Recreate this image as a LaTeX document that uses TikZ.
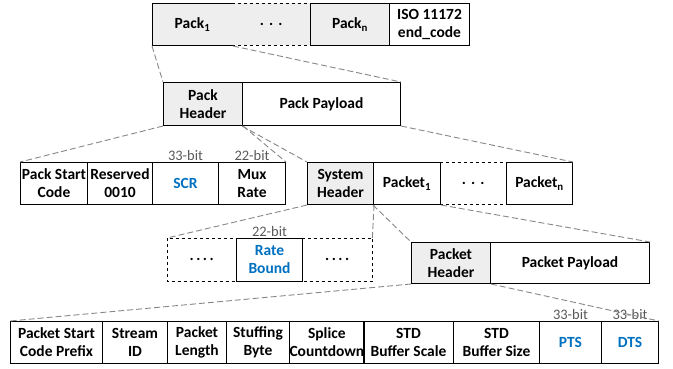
\documentclass[tikz,border=0pt]{standalone}
\usepackage{fontspec}
\setmainfont{Carlito}
\usetikzlibrary{calc}
\definecolor{fieldblue}{RGB}{0,112,192}
\definecolor{hdrgray}{RGB}{238,238,238}
\definecolor{linkgray}{RGB}{135,135,135}

\begin{document}
\begin{tikzpicture}[x=1pt, y=-1pt,
    box/.style={draw, line width=1pt, anchor=north west, inner sep=0pt, align=center,
        font=\fontsize{15.5}{18}\selectfont\bfseries},
    hdr/.style={box, fill=hdrgray},
    field/.style={text=fieldblue},
    gap/.style={anchor=north west, inner sep=0pt, font=\fontsize{15.5}{18}\selectfont\bfseries},
    bits/.style={above, inner sep=1pt, text=black!65, font=\fontsize{14.5}{16}\selectfont},
    link/.style={linkgray, line width=0.9pt, dash pattern=on 6pt off 3pt}]
    \useasboundingbox (0,0) rectangle (673,368);

    % Row 1: stream of packs
    \node[hdr, minimum width=80pt, minimum height=42pt] (pack1) at (152,3) {Pack\textsubscript{1}};
    \node[gap, minimum width=78pt, minimum height=42pt, fill=hdrgray] (packdots) at (232,3) {.\,\,.\,\,.};
    \node[hdr, minimum width=79pt, minimum height=42pt] (packn) at (310,3) {Pack\textsubscript{n}};
    \node[box, minimum width=80pt, minimum height=42pt] (endcode) at (389,3) {ISO 11172\\end\_code};
    \draw[line width=1pt, dashed] (packdots.north west) -- (packdots.north east);
    \draw[line width=1pt, dashed] (packdots.south west) -- (packdots.south east);

    % Row 2: one pack
    \node[hdr, minimum width=79pt, minimum height=43pt] (packhdr) at (163,82) {Pack\\Header};
    \node[box, minimum width=158pt, minimum height=43pt] (packpay) at (242,82) {Pack Payload};

    % Row 3: pack header fields and pack payload
    \node[box, minimum width=67pt, minimum height=42pt] (startcode) at (20,162) {Pack Start\\Code};
    \node[box, minimum width=65pt, minimum height=42pt] (reserved) at (87,162) {Reserved\\0010};
    \node[box, field, minimum width=66pt, minimum height=42pt] (scr) at (152,162) {SCR};
    \node[box, minimum width=67pt, minimum height=42pt] (muxrate) at (218,162) {Mux\\Rate};
    \node[bits] at (scr.north) {33-bit};
    \node[bits] at (muxrate.north) {22-bit};

    \node[hdr, minimum width=66pt, minimum height=42pt] (syshdr) at (307,162) {System\\Header};
    \node[box, minimum width=67pt, minimum height=42pt] (packet1) at (373,162) {Packet\textsubscript{1}};
    \node[gap, minimum width=66pt, minimum height=42pt] (packetdots) at (440,162) {.\,\,.\,\,.};
    \node[box, minimum width=66pt, minimum height=42pt] (packetn) at (506,162) {Packet\textsubscript{n}};
    \draw[line width=1pt, dashed] (packetdots.north west) -- (packetdots.north east);
    \draw[line width=1pt, dashed] (packetdots.south west) -- (packetdots.south east);

    % Row 4: system header fields
    \node[gap, minimum width=69pt, minimum height=43pt] (sysdotsl) at (167,238) {.\,.\,.\,.};
    \node[box, field, minimum width=66pt, minimum height=43pt] (ratebound) at (236,238) {Rate\\Bound};
    \node[gap, minimum width=70pt, minimum height=43pt] (sysdotsr) at (302,238) {.\,.\,.\,.};
    \draw[line width=1pt, dashed] (sysdotsl.north west) rectangle (sysdotsr.south east);
    \node[bits] at (ratebound.north) {22-bit};

    % Row 4: one packet
    \node[hdr, minimum width=79pt, minimum height=41pt] (packethdr) at (411,242) {Packet\\Header};
    \node[box, minimum width=159pt, minimum height=41pt] (packetpay) at (490,242) {Packet Payload};

    % Row 5: packet header fields
    \node[box, minimum width=92pt, minimum height=42pt] (prefix) at (10,321) {Packet Start\\Code Prefix};
    \node[box, minimum width=65pt, minimum height=42pt] (streamid) at (102,321) {Stream\\ID};
    \node[box, minimum width=59pt, minimum height=42pt] (pktlen) at (167,321) {Packet\\Length};
    \node[box, minimum width=63pt, minimum height=42pt] (stuffing) at (226,321) {Stuffing\\Byte};
    \node[box, minimum width=74pt, minimum height=42pt] (splice) at (289,321) {Splice\\Countdown};
    \node[box, minimum width=90pt, minimum height=42pt] (stdscale) at (363,321) {STD\\Buffer Scale};
    \node[box, minimum width=86pt, minimum height=42pt] (stdsize) at (453,321) {STD\\Buffer Size};
    \node[box, field, minimum width=62pt, minimum height=42pt] (pts) at (539,321) {PTS};
    \node[box, field, minimum width=57pt, minimum height=42pt] (dts) at (601,321) {DTS};
    \node[bits] at (pts.north) {33-bit};
    \node[bits] at (dts.north) {33-bit};

    % Zoom lines
    \draw[link] (pack1.south west) -- (packhdr.north west);
    \draw[link] (pack1.south east) -- (packpay.north east);
    \draw[link] (packhdr.south west) -- (startcode.north west);
    \draw[link] (packhdr.south east) -- (muxrate.north east);
    \draw[link] (packpay.south west) -- (syshdr.north west);
    \draw[link] (packpay.south east) -- (packetn.north east);
    \draw[link] (syshdr.south west) -- (sysdotsl.north west);
    \draw[link] (syshdr.south east) -- (sysdotsr.north east);
    \draw[link] (packet1.south west) -- (packethdr.north west);
    \draw[link] (packet1.south east) -- (packetpay.north east);
    \draw[link] (packethdr.south west) -- (prefix.north west);
    \draw[link] (packethdr.south east) -- (dts.north east);
\end{tikzpicture}
\end{document}
